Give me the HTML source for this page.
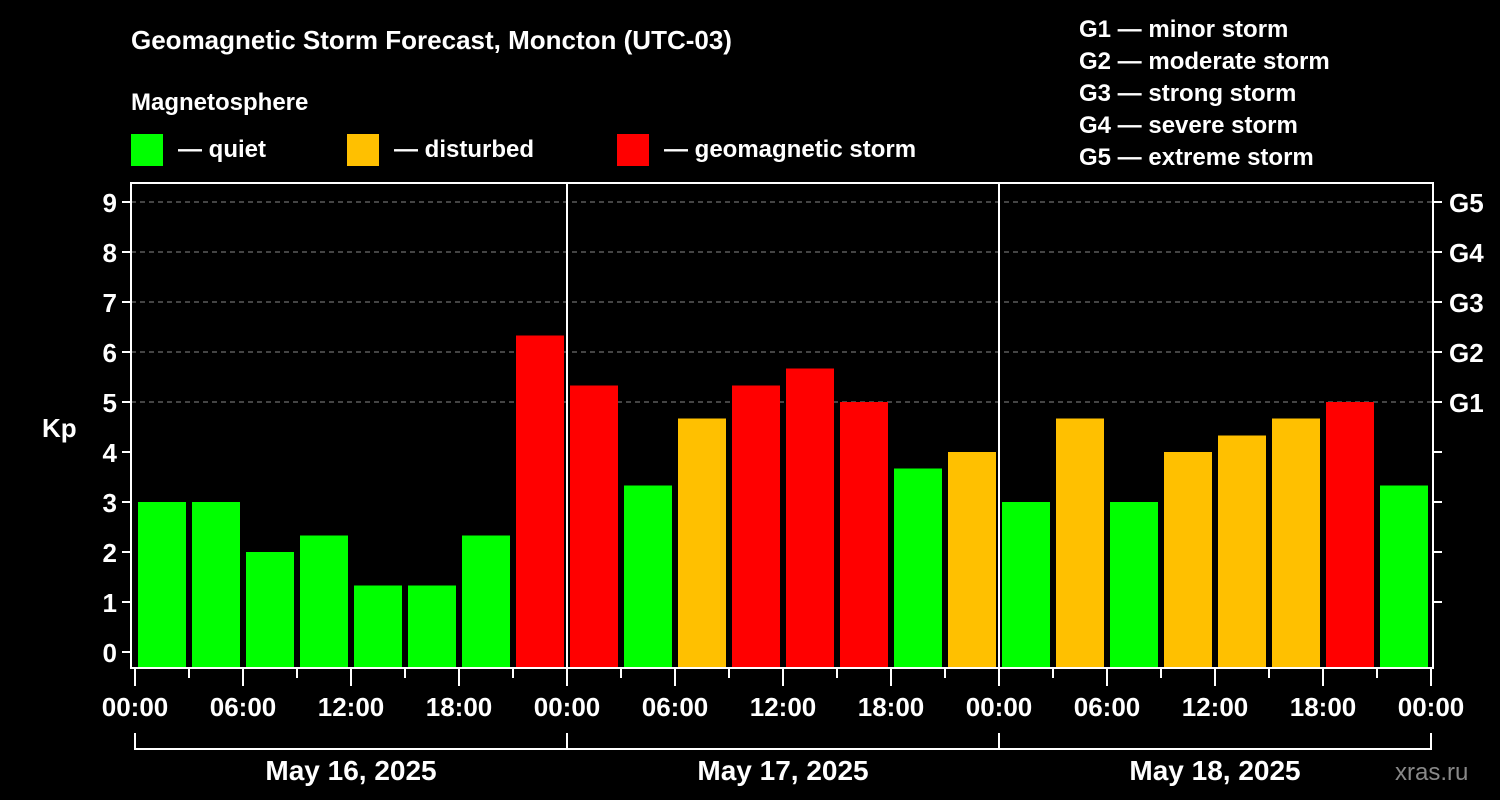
<!DOCTYPE html>
<html><head><meta charset="utf-8"><style>
html,body{margin:0;padding:0;background:#000;width:1500px;height:800px;overflow:hidden}
svg text{font-family:"Liberation Sans",Arial,sans-serif;font-weight:bold;fill:#fff}
</style></head><body>
<svg id="chart" width="1500" height="800" xmlns="http://www.w3.org/2000/svg">
<text x="131" y="49" font-size="26">Geomagnetic Storm Forecast, Moncton (UTC-03)</text>
<text x="131" y="110" font-size="24">Magnetosphere</text>
<g>
<rect x="131" y="134" width="32" height="32" fill="#00ff00"/>
<text x="178" y="157" font-size="24">— quiet</text>
<rect x="347" y="134" width="32" height="32" fill="#ffc000"/>
<text x="394" y="157" font-size="24">— disturbed</text>
<rect x="617" y="134" width="32" height="32" fill="#ff0000"/>
<text x="664" y="157" font-size="24">— geomagnetic storm</text>
</g>
<g font-size="24">
<text x="1079" y="37">G1 — minor storm</text>
<text x="1079" y="69">G2 — moderate storm</text>
<text x="1079" y="101">G3 — strong storm</text>
<text x="1079" y="133">G4 — severe storm</text>
<text x="1079" y="165">G5 — extreme storm</text>
</g>
<text x="42" y="437" font-size="26">Kp</text>
<text x="1395" y="780" font-size="24" style="fill:#888;font-weight:normal">xras.ru</text>
<g id="grid"></g><g id="bars"></g><g id="axes"></g>
</svg>
<script>
const kpValues=[3,3,2,2.33,1.33,1.33,2.33,6.33,5.33,3.33,4.67,5.33,5.67,5,3.67,4,3,4.67,3,4,4.33,4.67,5,3.33];
const yTicks=[0,1,2,3,4,5,6,7,8,9];
const gLabels=["G1","G2","G3","G4","G5"];
const gLevels=[5,6,7,8,9];
const xTickLabels=["00:00","06:00","12:00","18:00","00:00","06:00","12:00","18:00","00:00","06:00","12:00","18:00","00:00"];
const dayLabels=["May 16, 2025","May 17, 2025","May 18, 2025"];
const NS="http://www.w3.org/2000/svg";
const L=131,R=1433,T=183,B=668,X0=135,slotW=54;
const y=v=>652-50*v;
const x=i=>X0+i*slotW;
function mk(tag,attrs,parent,txt){const e=document.createElementNS(NS,tag);for(const k in attrs)e.setAttribute(k,attrs[k]);if(txt!==undefined)e.textContent=txt;parent.appendChild(e);return e;}
const grid=document.getElementById('grid'),bars=document.getElementById('bars'),axes=document.getElementById('axes');
gLevels.forEach((v,i)=>{
 const l=mk('line',{x1:L,x2:R,y1:y(v),y2:y(v),stroke:'#888','stroke-dasharray':'5,4','stroke-width':1},grid);
 
 
 mk('line',{x1:R,x2:R+9,y1:y(v),y2:y(v),stroke:'#fff','stroke-width':2},axes);
 const t=mk('text',{x:R+16,y:y(v)+10,'font-size':26},axes,gLabels[i]);
 
 
});
[1,2,3,4].forEach(v=>mk('line',{x1:R,x2:R+9,y1:y(v),y2:y(v),stroke:'#fff','stroke-width':2},axes));
kpValues.forEach((v,i)=>{
 const c=v>=5?'#ff0000':(v>=4?'#ffc000':'#00ff00');
 const r=mk('rect',{x:x(i)+3,y:y(v),width:48,height:B-y(v),fill:c},bars);
 
 
});
mk('rect',{x:L,y:T,width:R-L,height:B-T,fill:'none',stroke:'#fff','stroke-width':2},axes);
[1,2].forEach(d=>mk('line',{x1:x(d*8),x2:x(d*8),y1:T,y2:B,stroke:'#fff','stroke-width':2},axes));
yTicks.forEach(v=>{
 mk('line',{x1:L-9,x2:L,y1:y(v),y2:y(v),stroke:'#fff','stroke-width':2},axes);
 const t=mk('text',{x:L-14,y:y(v)+10,'font-size':26,'text-anchor':'end'},axes,String(v));
 
 
});
for(let i=0;i<=24;i++){
 const major=i%2===0;
 mk('line',{x1:x(i),x2:x(i),y1:B,y2:B+(major?18:10),stroke:'#fff','stroke-width':2},axes);
}
xTickLabels.forEach((s,j)=>{
 const t=mk('text',{x:x(j*2),y:716,'font-size':26,'text-anchor':'middle'},axes,s);
 
 
});
mk('path',{d:`M${x(0)},733 V749 H${x(24)} V733 M${x(8)},733 V749 M${x(16)},733 V749`,stroke:'#fff','stroke-width':2,fill:'none'},axes);
dayLabels.forEach((s,d)=>{
 const t=mk('text',{x:x(d*8+4),y:780,'font-size':28,'text-anchor':'middle'},axes,s);
 
 
});
</script>
</body></html>
